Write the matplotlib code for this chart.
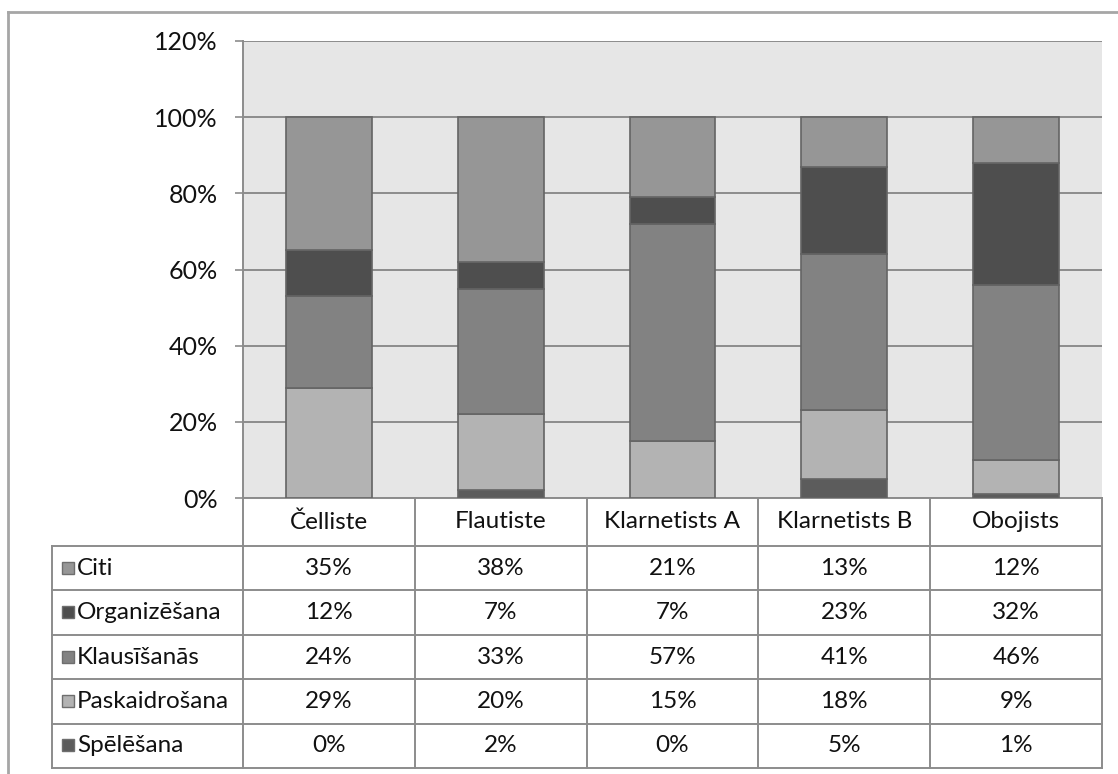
import matplotlib
matplotlib.use("Agg")
import matplotlib.pyplot as plt
from matplotlib.patches import Rectangle
from matplotlib.ticker import FuncFormatter

plt.rcParams['font.family'] = ['Lato', 'DejaVu Sans']

categories = ["Čelliste", "Flautiste", "Klarnetists A", "Klarnetists B", "Obojists"]

# series, bottom of the stack first
series_names = ["Spēlēšana", "Paskaidrošana", "Klausīšanās", "Organizēšana", "Citi"]
speleshana = [0, 2, 0, 5, 1]
paskaidroshana = [29, 20, 15, 18, 9]
klausishanas = [24, 33, 57, 41, 46]
organizeshana = [12, 7, 7, 23, 32]
citi = [35, 38, 21, 13, 12]
series_values = [speleshana, paskaidroshana, klausishanas, organizeshana, citi]
series_colors = ["#5c5c5c", "#b3b3b3", "#828282", "#4e4e4e", "#969696"]

yticks = [0, 20, 40, 60, 80, 100, 120]

W, H = 1118, 774
fig = plt.figure(figsize=(W / 100, H / 100), dpi=100)
fig.patch.set_facecolor("white")

text_c = "#111111"

# plot area in pixel terms
px_left, px_right, px_top, px_bottom = 243, 1102, 41, 498
ax = fig.add_axes([px_left / W, 1 - px_bottom / H,
                   (px_right - px_left) / W, (px_bottom - px_top) / H])
ax.set_facecolor("#e6e6e6")

x = range(len(categories))
bottom = [0] * len(categories)
for name, vals, col in zip(series_names, series_values, series_colors):
    ax.bar(x, vals, bottom=bottom, width=0.5, color=col,
           edgecolor="#646464", linewidth=1.2, zorder=3, label=name)
    bottom = [b + v for b, v in zip(bottom, vals)]

ax.set_xlim(-0.5, len(categories) - 0.5)
ax.set_ylim(0, 120)
ax.set_yticks(yticks)
ax.yaxis.set_major_formatter(FuncFormatter(lambda v, p: f"{int(v)}%"))
ax.set_xticks([])
ax.grid(axis="y", color="#8c8c8c", linewidth=1.4, zorder=1)
ax.tick_params(axis="y", length=6, width=1.2, color="#8c8c8c", pad=12,
               labelsize=18, labelcolor=text_c)
for side in ["top", "right"]:
    ax.spines[side].set_visible(False)
ax.spines["left"].set_color("#8c8c8c")
ax.spines["left"].set_linewidth(1.4)
ax.spines["bottom"].set_color("#8c8c8c")
ax.spines["bottom"].set_linewidth(1.4)

# data table below the plot, drawn on a pixel-space overlay
ov = fig.add_axes([0, 0, 1, 1], zorder=5)
ov.set_xlim(0, W)
ov.set_ylim(H, 0)
ov.axis("off")
ov.patch.set_alpha(0)

line_c = "#8c8c8c"
lw = 1.4
n = len(categories)
colw = (px_right - px_left) / n
tab_left = 52
header_bottom = 546
row_h = 44.4
rows_top_to_bottom = list(reversed(list(zip(series_names, series_values, series_colors))))
table_bottom = header_bottom + row_h * len(rows_top_to_bottom)

# outer frame of the chart (top and left edges visible)
ov.plot([8, W], [12, 12], color="#a6a6a6", linewidth=2)
ov.plot([8, 8], [12, H], color="#a6a6a6", linewidth=2)

# grid lines of the table
for i in range(n + 1):
    xc = px_left + i * colw
    ov.plot([xc, xc], [px_bottom, table_bottom], color=line_c, linewidth=lw)
ov.plot([tab_left, tab_left], [header_bottom, table_bottom], color=line_c, linewidth=lw)
for r in range(len(rows_top_to_bottom) + 1):
    yr = header_bottom + r * row_h
    ov.plot([tab_left, px_right], [yr, yr], color=line_c, linewidth=lw)

# header
for i, cat in enumerate(categories):
    ov.text(px_left + (i + 0.5) * colw, (px_bottom + header_bottom) / 2, cat,
            ha="center", va="center", fontsize=17.5, color=text_c)

# rows
for r, (name, vals, col) in enumerate(rows_top_to_bottom):
    yc = header_bottom + (r + 0.5) * row_h
    ov.add_patch(Rectangle((62, yc - 6.5), 12, 12, facecolor=col,
                           edgecolor="#6e6e6e", linewidth=1))
    ov.text(77, yc, name, ha="left", va="center", fontsize=17.5, color=text_c)
    for i, v in enumerate(vals):
        ov.text(px_left + (i + 0.5) * colw, yc, f"{v}%", ha="center",
                va="center", fontsize=17.5, color=text_c)

fig.savefig("out.png", dpi=100)
